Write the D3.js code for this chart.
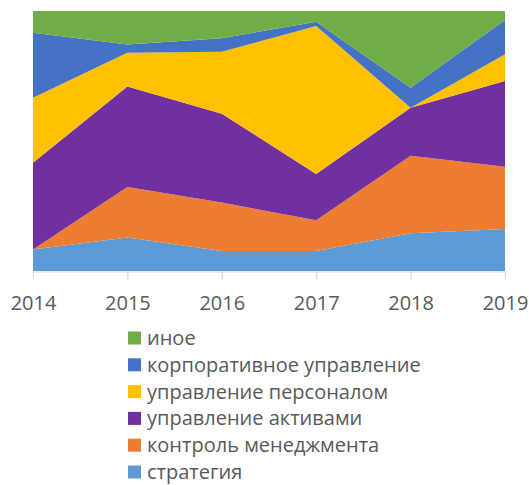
<!DOCTYPE html>
<html>
<head>
<meta charset="utf-8">
<script src="https://cdn.jsdelivr.net/npm/d3@7"></script>
<style>
  html, body { margin: 0; padding: 0; background: #fff; }
  svg { display: block; font-family: "Open Sans", "Noto Sans", sans-serif; }
</style>
</head>
<body>
<svg id="chart" width="529" height="485"></svg>
<script>
// Years on the horizontal axis
const years = ["2014", "2015", "2016", "2017", "2018", "2019"];

// Share of each topic per year, in percent (each year sums to about 100)
const strategy   = [8.3, 12.9, 7.7, 7.7, 14.5, 16.2];
const control    = [0.0, 19.4, 18.6, 11.8, 29.8, 24.0];
const assets     = [33.3, 38.7, 34.2, 17.8, 18.5, 33.0];
const personnel  = [25.0, 12.9, 23.8, 56.9, 0.0, 10.3];
const governance = [25.0, 3.2, 5.2, 1.7, 7.7, 13.2];
const other      = [8.4, 12.9, 10.5, 4.1, 29.5, 3.5];

// Series, bottom to top of the stack
const seriesNames = [
  "стратегия",
  "контроль менеджмента",
  "управление активами",
  "управление персоналом",
  "корпоративное управление",
  "иное"
];
const seriesValues = [strategy, control, assets, personnel, governance, other];
const seriesColors = ["#5B9BD5", "#ED7D31", "#7030A0", "#FFC000", "#4472C4", "#70AD47"];

const svg = d3.select("#chart");

const plot = { left: 33, right: 505, top: 11, bottom: 271 };

const rows = years.map((y, i) => {
  const r = { year: y };
  seriesNames.forEach((n, k) => { r[n] = seriesValues[k][i]; });
  return r;
});

const stack = d3.stack()
  .keys(seriesNames)
  .offset(d3.stackOffsetExpand);
const layers = stack(rows);

const x = d3.scalePoint()
  .domain(years)
  .range([plot.left, plot.right]);

const y = d3.scaleLinear()
  .domain([0, 1])
  .range([plot.bottom, plot.top]);

const area = d3.area()
  .x(d => x(d.data.year))
  .y0(d => y(d[0]))
  .y1(d => y(d[1]));

svg.append("g")
  .selectAll("path")
  .data(layers)
  .join("path")
  .attr("d", area)
  .attr("fill", (d, i) => seriesColors[i]);

// Category axis along the bottom
const axis = svg.append("g")
  .attr("transform", `translate(0,${plot.bottom + 0.5})`)
  .call(d3.axisBottom(x).tickSize(8).tickPadding(16).tickSizeOuter(0));
axis.select(".domain").attr("stroke", "#D9D9D9").attr("stroke-width", 1.2);
axis.selectAll(".tick line").attr("stroke", "#D9D9D9").attr("stroke-width", 1.2);
axis.selectAll(".tick text")
  .attr("fill", "#595959")
  .style("font-size", "20px")
  .style("font-family", "'Open Sans', sans-serif");

// Legend, top entry is the top layer
const legendItems = seriesNames.map((n, i) => ({ name: n, color: seriesColors[i] })).reverse();
const legend = svg.append("g").attr("transform", "translate(128,338)");
const item = legend.selectAll("g")
  .data(legendItems)
  .join("g")
  .attr("transform", (d, i) => `translate(0,${i * 26.8})`);
item.append("rect")
  .attr("x", 0).attr("y", -6.5)
  .attr("width", 13).attr("height", 13)
  .attr("fill", d => d.color);
item.append("text")
  .attr("x", 19).attr("y", 0)
  .attr("dy", "0.35em")
  .attr("fill", "#595959")
  .style("font-size", "20px")
  .text(d => d.name);
</script>
</body>
</html>
